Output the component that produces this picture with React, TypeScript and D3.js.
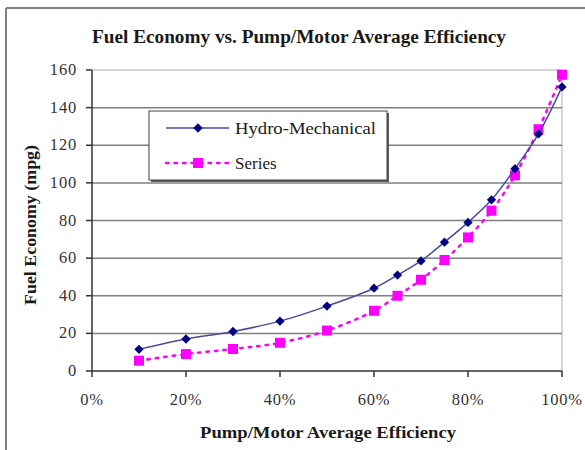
import React from "react";
import * as d3 from "d3";

const efficiency = [0.1, 0.2, 0.3, 0.4, 0.5, 0.6, 0.65, 0.7, 0.75, 0.8, 0.85, 0.9, 0.95, 1.0];
const hydroMechanical = [11.5, 17, 21, 26.5, 34.5, 44, 51, 58.5, 68.5, 79, 91, 107.5, 126, 151];
const seriesValues = [5.5, 9, 11.7, 15, 21.5, 32, 40, 48.5, 59, 71, 85.2, 104, 128.5, 157.5];
const xTicks = [0, 0.2, 0.4, 0.6, 0.8, 1.0];
const yTicks = [0, 20, 40, 60, 80, 100, 120, 140, 160];

const W = 585;
const H = 450;
const left = 92;
const right = 562;
const top = 70;
const bottom = 371;

export default function App() {
  const x = d3.scaleLinear().domain([0, 1]).range([left, right]);
  const y = d3.scaleLinear().domain([0, 160]).range([bottom, top]);
  const line = d3
    .line<number>()
    .x((_, i) => x(efficiency[i]))
    .y((d) => y(d))
    .curve(d3.curveCatmullRom.alpha(0.5));
  const font = "'Liberation Serif', 'Times New Roman', serif";
  const pct = d3.format(".0%");
  const diamond = d3.symbol().type(d3.symbolDiamond2).size(55)() as string;

  return (
    <svg
      width={W}
      height={H}
      style={{ position: "absolute", left: 0, top: 0, background: "#fff" }}
      fontFamily={font}
    >
      <rect x={0} y={0} width={W} height={H} fill="#fff" />
      {/* outer frame */}
      <line x1={6} y1={8} x2={W + 5} y2={8} stroke="#808080" strokeWidth={2} />
      <line x1={6} y1={8} x2={6} y2={H + 5} stroke="#808080" strokeWidth={2} />

      <text
        x={92}
        y={43}
        fontSize={18}
        fontWeight="bold"
        fill="#1a1a1a"
        textLength={414}
        lengthAdjust="spacingAndGlyphs"
      >
        Fuel Economy vs. Pump/Motor Average Efficiency
      </text>

      {/* plot area border (light) */}
      <line x1={left} y1={top} x2={right} y2={top} stroke="#c8c8c8" strokeWidth={1.5} />
      <line x1={right} y1={top} x2={right} y2={bottom} stroke="#c8c8c8" strokeWidth={1.5} />

      {/* gridlines */}
      {yTicks
        .filter((t) => t !== 0 && t !== 160)
        .map((t) => (
          <line key={t} x1={left} x2={right} y1={y(t)} y2={y(t)} stroke="#808080" strokeWidth={1.5} />
        ))}

      {/* axes */}
      <line x1={left} y1={top} x2={left} y2={bottom} stroke="#333" strokeWidth={1.5} />
      <line x1={left} y1={bottom} x2={right} y2={bottom} stroke="#333" strokeWidth={1.5} />
      {yTicks.map((t) => (
        <g key={t}>
          <line x1={left - 6} x2={left} y1={y(t)} y2={y(t)} stroke="#333" strokeWidth={1.5} />
          <text x={77} y={y(t) + 5} textAnchor="end" fontSize={16.5} letterSpacing={0.8} fill="#333">
            {t}
          </text>
        </g>
      ))}
      {xTicks.map((t) => (
        <g key={t}>
          <line x1={x(t)} x2={x(t)} y1={bottom} y2={bottom + 6} stroke="#333" strokeWidth={1.5} />
          <text x={x(t)} y={405} textAnchor="middle" fontSize={16.5} letterSpacing={0.8} fill="#333">
            {pct(t)}
          </text>
        </g>
      ))}

      <text
        x={200}
        y={438}
        fontSize={16}
        fontWeight="bold"
        fill="#1a1a1a"
        textLength={256}
        lengthAdjust="spacingAndGlyphs"
      >
        Pump/Motor Average Efficiency
      </text>
      <text
        transform={`translate(36, 305) rotate(-90)`}
        fontSize={16}
        fontWeight="bold"
        fill="#1a1a1a"
        textLength={160}
        lengthAdjust="spacingAndGlyphs"
      >
        Fuel Economy (mpg)
      </text>

      {/* Series */}
      <path
        d={line(seriesValues) as string}
        fill="none"
        stroke="#ff00ff"
        strokeWidth={2.5}
        strokeDasharray="2.5 6"
        strokeLinecap="round"
      />
      {seriesValues.map((v, i) => (
        <rect key={i} x={x(efficiency[i]) - 5} y={y(v) - 5} width={10} height={10} fill="#ff00ff" />
      ))}

      {/* Hydro-Mechanical */}
      <path d={line(hydroMechanical) as string} fill="none" stroke="#4a4a9c" strokeWidth={1.5} />
      {hydroMechanical.map((v, i) => (
        <path key={i} d={diamond} transform={`translate(${x(efficiency[i])},${y(v)})`} fill="#000080" />
      ))}

      {/* legend */}
      <rect x={151} y={113} width={238} height={69} fill="#606060" />
      <rect x={149} y={111} width={238} height={69} fill="#fff" stroke="#404040" strokeWidth={1} />
      <line x1={166} x2={229} y1={128} y2={128} stroke="#4a4a9c" strokeWidth={1.5} />
      <path d={diamond} transform="translate(198,128)" fill="#000080" />
      <text
        x={235}
        y={134}
        fontSize={17}
        fill="#1a1a1a"
        textLength={141}
        lengthAdjust="spacingAndGlyphs"
      >
        Hydro-Mechanical
      </text>
      <line
        x1={166}
        x2={229}
        y1={163}
        y2={163}
        stroke="#ff00ff"
        strokeWidth={2.5}
        strokeDasharray="2.5 6"
        strokeLinecap="round"
      />
      <rect x={193} y={158} width={10} height={10} fill="#ff00ff" />
      <text x={235} y={169} fontSize={17} fill="#1a1a1a">
        Series
      </text>
    </svg>
  );
}
